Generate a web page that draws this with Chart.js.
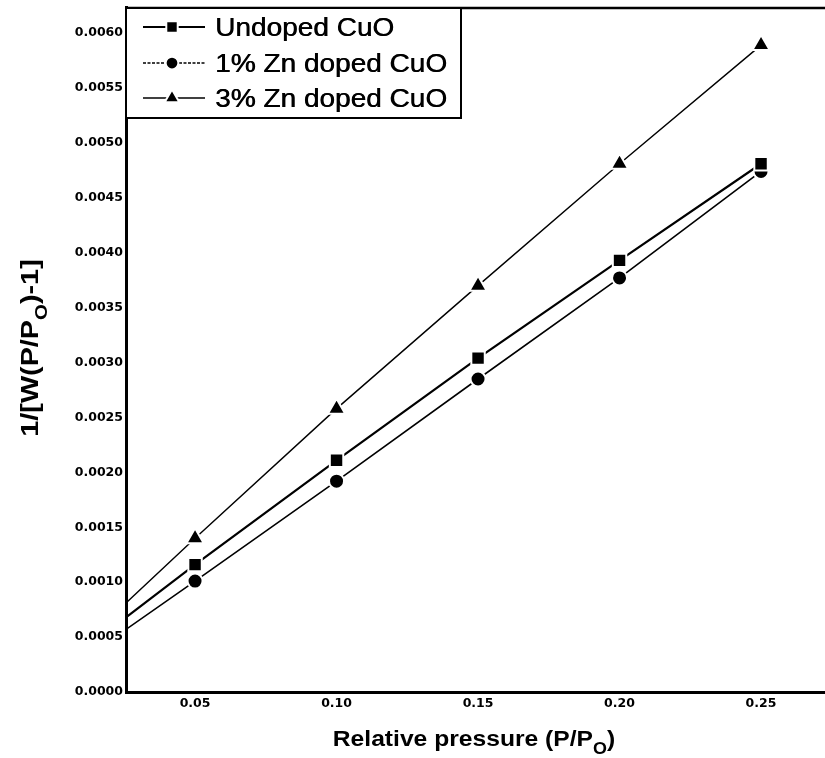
<!DOCTYPE html>
<html><head><meta charset="utf-8">
<script src="https://cdn.jsdelivr.net/npm/chart.js@4/dist/chart.umd.min.js"></script>
<style>html,body{margin:0;padding:0;background:#fff;}#wrap{width:825px;height:758px;}</style>
</head><body><div id="wrap"><canvas id="c" width="825" height="758"></canvas></div>
<script>
// ---- data ----
const pressure = [0.05, 0.10, 0.15, 0.20, 0.25];
const undopedCuO = [0.00116, 0.00211, 0.00304, 0.00393, 0.00481];
const zn1CuO = [0.00101, 0.00192, 0.00285, 0.00377, 0.00474];
const zn3CuO = [0.00140, 0.00258, 0.00370, 0.00481, 0.00589];
// lines continue back to the left axis (value where each line meets the axis)
const lineStartX = 0.0256;
const lineStartY = [0.00068, 0.00057, 0.00081];
const seriesNames = ["Undoped CuO", "1% Zn doped CuO", "3% Zn doped CuO"];
const xTickValues = [0.05, 0.10, 0.15, 0.20, 0.25];
const yTickValues = [0, 0.0005, 0.0010, 0.0015, 0.0020, 0.0025, 0.0030, 0.0035, 0.0040, 0.0045, 0.0050, 0.0055, 0.0060];
const xRange = [0.0256, 0.2726];
const yRange = [0, 0.006237];

const seriesValues = [undopedCuO, zn1CuO, zn3CuO];
const styles = [
  {pointStyle: 'rect', radius: 9.5, width: 2.2, dash: [], order: 0},
  {pointStyle: 'circle', radius: 7.5, width: 1.6, dash: [], order: 1},
  {pointStyle: 'triangle', radius: 10, width: 1.4, dash: [], order: 2}
];
const legendDash = [[], [3, 1.5], []];

function buildData(vals, i) {
  return [{x: lineStartX, y: lineStartY[i]}].concat(pressure.map((p, k) => ({x: p, y: vals[k]})));
}

const datasets = seriesValues.map((vals, i) => ({
  label: seriesNames[i],
  data: buildData(vals, i),
  order: styles[i].order,
  borderColor: '#000',
  backgroundColor: '#000',
  borderWidth: styles[i].width,
  borderDash: styles[i].dash,
  pointStyle: styles[i].pointStyle,
  pointRadius: ctx => ctx.dataIndex === 0 ? 0 : styles[i].radius,
  pointBackgroundColor: '#000',
  pointBorderColor: '#fff',
  pointBorderWidth: 2,
  tension: 0,
  fill: false
}));

function drawRich(ctx, parts, cx, baseY, sx) {
  let total = 0;
  parts.forEach(p => { ctx.font = p.font; p.w = ctx.measureText(p.t).width; total += p.w; });
  ctx.save();
  ctx.translate(cx, baseY);
  ctx.scale(sx, 1);
  let x = -total / 2;
  ctx.textAlign = 'left';
  ctx.textBaseline = 'alphabetic';
  parts.forEach(p => { ctx.font = p.font; ctx.fillText(p.t, x, p.dy || 0); x += p.w; });
  ctx.restore();
}

const decor = {
  id: 'decor',
  afterDraw(chart) {
    const ctx = chart.ctx;
    const a = chart.chartArea;
    ctx.save();
    ctx.fillStyle = '#000';
    ctx.strokeStyle = '#000';
    // top frame line
    ctx.lineWidth = 2.5;
    ctx.beginPath(); ctx.moveTo(a.left, a.top + 1); ctx.lineTo(chart.width, a.top + 1); ctx.stroke();

    // legend box
    const bx = a.left, by = a.top, bw = 335, bh = 111;
    ctx.fillStyle = '#fff';
    ctx.fillRect(bx, by, bw, bh);
    ctx.lineWidth = 2;
    ctx.strokeRect(bx, by + 1, bw, bh - 1);
    ctx.fillStyle = '#000';
    const rows = [27, 63, 98];
    seriesNames.forEach((name, i) => {
      const y = rows[i];
      ctx.save();
      ctx.lineWidth = styles[i].width;
      ctx.setLineDash(legendDash[i]);
      ctx.beginPath(); ctx.moveTo(143, y); ctx.lineTo(205, y); ctx.stroke();
      ctx.restore();
      ctx.save();
      ctx.fillStyle = '#000';
      ctx.strokeStyle = '#fff';
      Chart.helpers.drawPoint(ctx, {pointStyle: styles[i].pointStyle, rotation: 0, radius: styles[i].radius * 0.85, borderWidth: 2}, 172, y);
      ctx.restore();
      ctx.save();
      ctx.translate(215, y + 9);
      ctx.scale(1.12, 1);
      ctx.font = '25px "Liberation Sans", Arial, sans-serif';
      ctx.textAlign = 'left';
      ctx.textBaseline = 'alphabetic';
      ctx.fillText(name, 0, 0);
      ctx.fillText(name, 0.5, 0);
      ctx.restore();
    });

    // x axis title
    const big = 'bold 22px "Liberation Sans", Arial, sans-serif';
    const sub = 'bold 16px "Liberation Sans", Arial, sans-serif';
    drawRich(ctx, [
      {t: 'Relative pressure (P/P', font: big},
      {t: 'O', font: sub, dy: 8},
      {t: ')', font: big}
    ], 474, 746, 1.12);

    // y axis title
    const bigY = 'bold 24px "Liberation Sans", Arial, sans-serif';
    const subY = 'bold 17px "Liberation Sans", Arial, sans-serif';
    ctx.save();
    ctx.translate(38, 348);
    ctx.rotate(-Math.PI / 2);
    drawRich(ctx, [
      {t: '1/[W(P/P', font: bigY},
      {t: 'O', font: subY, dy: 9},
      {t: ')-1]', font: bigY}
    ], 0, 0, 1.2);
    ctx.restore();
    ctx.restore();
  }
};

const tickFont = {family: '"DejaVu Sans", sans-serif', size: 12.5, weight: 'bold'};

new Chart(document.getElementById('c'), {
  type: 'line',
  data: {datasets},
  options: {
    responsive: false,
    animation: false,
    devicePixelRatio: 1,
    layout: {autoPadding: false, padding: {top: 7, right: 0, left: 0, bottom: 0}},
    plugins: {legend: {display: false}, tooltip: {enabled: false}, title: {display: false}},
    scales: {
      x: {
        type: 'linear',
        min: xRange[0], max: xRange[1],
        afterBuildTicks: s => { s.ticks = xTickValues.map(v => ({value: v})); },
        afterFit: s => { s.height = 66; s.paddingRight = 0; s.paddingLeft = 0; },
        grid: {display: false, drawTicks: false},
        border: {display: true, color: '#000', width: 3},
        ticks: {color: '#000', font: tickFont, padding: 4, maxRotation: 0, autoSkip: false,
          callback: v => v.toFixed(2)}
      },
      y: {
        type: 'linear',
        min: yRange[0], max: yRange[1],
        afterBuildTicks: s => { s.ticks = yTickValues.map(v => ({value: v})); },
        afterFit: s => { s.width = 126; s.paddingTop = 0; s.paddingBottom = 0; },
        grid: {display: false, drawTicks: false},
        border: {display: true, color: '#000', width: 3},
        ticks: {color: '#000', font: tickFont, padding: 3, autoSkip: false,
          callback: v => v.toFixed(4)}
      }
    }
  },
  plugins: [decor]
});
</script>
</body></html>
